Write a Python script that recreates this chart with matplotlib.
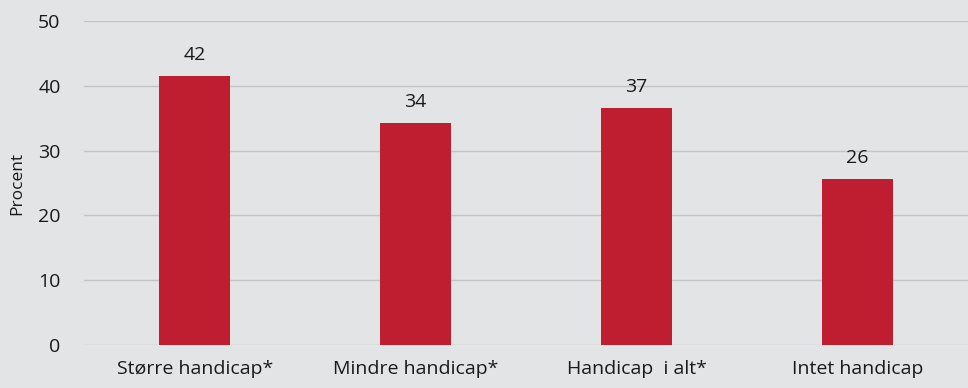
import matplotlib.pyplot as plt

categories = ['Større handicap*', 'Mindre handicap*', 'Handicap  i alt*', 'Intet handicap']
values = [41.5, 34.2, 36.5, 25.6]
labels = ['42', '34', '37', '26']

bg = '#e3e4e6'
bar_color = '#be1e2f'

plt.rcParams['font.family'] = ['Open Sans', 'DejaVu Sans']

fig = plt.figure(figsize=(9.68, 3.88), dpi=100, facecolor=bg)
ax = fig.add_axes([0.087, 0.111, 0.913, 0.835])
ax.set_facecolor(bg)

x = range(len(categories))
bars = ax.bar(x, values, width=0.32, color=bar_color, zorder=3)

for b, lab in zip(bars, labels):
    ax.annotate(lab, (b.get_x() + b.get_width() / 2, b.get_height()),
                xytext=(0, 9), textcoords='offset points',
                ha='center', va='bottom', fontsize=14, color='#1a1a1a')

ax.set_ylim(0, 50)
ax.set_xlim(-0.5, len(categories) - 0.5)
ax.set_yticks(range(0, 51, 10))
ax.set_xticks(list(x))
ax.set_xticklabels(categories)
ax.tick_params(axis='both', length=0, labelsize=14, colors='#1a1a1a')
ax.tick_params(axis='y', pad=17)
ax.tick_params(axis='x', pad=11)
ax.grid(axis='y', color='#c3c4c6', linewidth=1.0, zorder=0)
for s in ax.spines.values():
    s.set_visible(False)

ax.set_ylabel('Procent', fontsize=12.5, color='#1a1a1a', labelpad=9)

fig.savefig('out.png', dpi=100, facecolor=bg)
